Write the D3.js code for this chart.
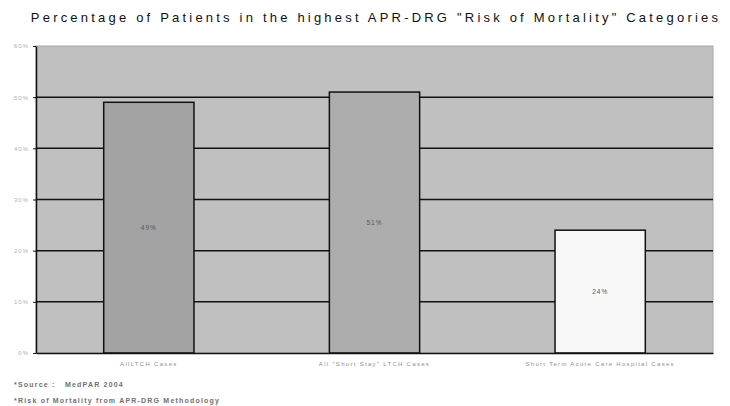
<!DOCTYPE html>
<html>
  <head>
    <meta charset="utf-8">
    <title>Risk of Mortality categories</title>
    <script src="https://d3js.org/d3.v7.min.js"></script>
    <style>
      body { margin: 0; background: #fff; }
      svg { display: block; font-family: "Liberation Sans", Arial, sans-serif; }
      .tickLabel { fill: #b0b0b0; font-size: 6px; letter-spacing: 1px; }
      .catLabel { fill: #909090; font-size: 6px; letter-spacing: 1.3px; }
      .valLabel { fill: #555; font-size: 6.5px; letter-spacing: 1px; }
      .note { fill: #707070; font-size: 7px; font-weight: bold; letter-spacing: 1.2px; white-space: pre; }
      .title { fill: #111; font-size: 13px; letter-spacing: 3.2px; }
    </style>
  </head>
  <body>
    <svg id="chart" width="730" height="406"></svg>
    <script>
      // data
      var categories = ["AllLTCH Cases", "All \"Short Stay\" LTCH Cases", "Short Term Acute Care Hospital Cases"];
      var values = [49, 51, 24];
      var barColours = ["#a3a3a3", "#adadad", "#f8f8f8"];
      var yTicks = [0, 10, 20, 30, 40, 50, 60];
      var notes = ["*Source :   MedPAR 2004", "*Risk of Mortality from APR-DRG Methodology"];

      var margin = { top: 46, right: 17, bottom: 53, left: 36 };
      var width = 730, height = 406;
      var chart = d3.select("#chart");

      var x = d3.scaleBand()
        .domain(categories)
        .range([margin.left, width - margin.right])
        .paddingInner(0.6)
        .paddingOuter(0.3);
      var y = d3.scaleLinear()
        .domain([0, 60])
        .range([height - margin.bottom, margin.top]);

      // plot background
      chart.append("rect")
        .attr("x", margin.left)
        .attr("y", y(60))
        .attr("width", width - margin.right - margin.left)
        .attr("height", y(0) - y(60))
        .attr("fill", "#c0c0c0")
        .attr("stroke", "#a8a8a8")
        .attr("stroke-width", 1);

      // gridlines
      chart.append("g")
        .selectAll("line")
        .data(yTicks.filter(function(d) { return d > 0 && d < 60; }))
        .enter().append("line")
          .attr("x1", margin.left)
          .attr("x2", width - margin.right)
          .attr("y1", function(d) { return y(d); })
          .attr("y2", function(d) { return y(d); })
          .attr("stroke", "#111")
          .attr("stroke-width", 1.5);

      // bars
      chart.append("g")
        .selectAll("rect")
        .data(values)
        .enter().append("rect")
          .attr("x", function(d, i) { return x(categories[i]); })
          .attr("y", function(d) { return y(d); })
          .attr("width", x.bandwidth())
          .attr("height", function(d) { return y(0) - y(d); })
          .attr("fill", function(d, i) { return barColours[i]; })
          .attr("stroke", "#111")
          .attr("stroke-width", 1.5);

      // value labels
      chart.append("g")
        .selectAll("text")
        .data(values)
        .enter().append("text")
          .classed("valLabel", true)
          .attr("x", function(d, i) { return x(categories[i]) + x.bandwidth() / 2; })
          .attr("y", function(d) { return (y(d) + y(0)) / 2 + 2; })
          .attr("text-anchor", "middle")
          .text(function(d) { return d + "%"; });

      // y axis
      var yAxis = d3.axisLeft(y)
        .tickValues(yTicks)
        .tickFormat(function(d) { return d + "%"; })
        .tickSizeInner(3)
        .tickSizeOuter(0)
        .tickPadding(4);
      var yAxisGroup = chart.append("g")
        .attr("transform", "translate(" + margin.left + ",0)")
        .call(yAxis);
      yAxisGroup.select(".domain").attr("stroke", "#111").attr("stroke-width", 1.5);
      yAxisGroup.selectAll(".tick line").attr("stroke", "#111");
      yAxisGroup.selectAll(".tick text")
        .attr("class", "tickLabel")
        .attr("font-size", null)
        .attr("font-family", null)
        .attr("fill", null);

      // x axis
      var xAxis = d3.axisBottom(x)
        .tickSizeInner(0)
        .tickSizeOuter(0)
        .tickPadding(9);
      var xAxisGroup = chart.append("g")
        .attr("transform", "translate(0," + y(0) + ")")
        .call(xAxis);
      xAxisGroup.select(".domain").attr("stroke", "#111").attr("stroke-width", 1.5);
      xAxisGroup.selectAll(".tick text")
        .attr("class", "catLabel")
        .attr("font-size", null)
        .attr("font-family", null)
        .attr("fill", null);

      // title
      chart.append("text")
        .classed("title", true)
        .attr("x", 376)
        .attr("y", 22)
        .attr("text-anchor", "middle")
        .text("Percentage of Patients in the highest APR-DRG \"Risk of Mortality\" Categories");

      // footnotes
      chart.append("g")
        .selectAll("text")
        .data(notes)
        .enter().append("text")
          .classed("note", true)
          .attr("x", 14)
          .attr("y", function(d, i) { return 387 + i * 16; })
          .text(function(d) { return d; });
    </script>
  </body>
</html>
